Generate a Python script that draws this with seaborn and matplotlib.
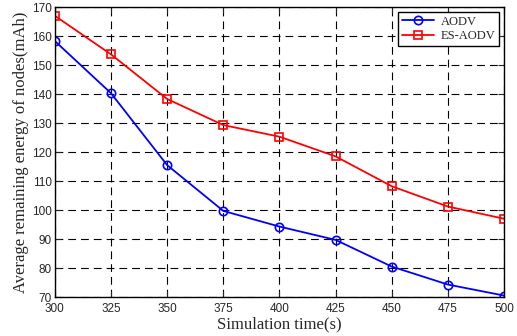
import numpy as np
import pandas as pd
import seaborn as sns
import matplotlib
matplotlib.use("Agg")
import matplotlib.pyplot as plt

times = [300, 325, 350, 375, 400, 425, 450, 475, 500]
aodv = [158.3, 140.3, 115.5, 99.7, 94.3, 89.7, 80.5, 74.3, 70.5]
es_aodv = [167.0, 153.7, 138.3, 129.3, 125.3, 118.5, 108.2, 101.2, 97.0]

df = pd.DataFrame({
    "time": times * 2,
    "energy": aodv + es_aodv,
    "protocol": ["AODV"] * len(times) + ["ES-AODV"] * len(times),
})

sns.set_style("ticks")
plt.rcParams["font.family"] = ["Liberation Sans", "DejaVu Sans"]
plt.rcParams["xtick.direction"] = "in"
plt.rcParams["ytick.direction"] = "in"

fig = plt.figure(figsize=(5.17, 3.36), dpi=100)
ax = fig.add_axes([0.106, 0.116, 0.869, 0.863])

sns.lineplot(data=df, x="time", y="energy", hue="protocol", style="protocol",
             palette={"AODV": "#0000ff", "ES-AODV": "#ff0000"},
             markers={"AODV": "o", "ES-AODV": "s"}, dashes=False,
             markersize=6, markerfacecolor="none", markeredgewidth=1.2,
             linewidth=1.3, ax=ax)
for ln in ax.lines:
    ln.set_markeredgecolor(ln.get_color())
    ln.set_markerfacecolor("none")

ax.set_xlim(300, 500)
ax.set_ylim(70, 170)
ax.set_xticks(times)
ax.set_yticks(np.arange(70, 171, 10))
ax.tick_params(labelsize=8.5, length=4, top=True, right=True)
ax.tick_params(axis="x", pad=4)
ax.tick_params(axis="y", pad=2)
ax.grid(True, color="black", linestyle=(0, (7, 4.5)), linewidth=0.8)
for s in ax.spines.values():
    s.set_linewidth(1.0)
    s.set_color("black")

ax.set_xlabel("Simulation time(s)", family=["Liberation Serif"], fontsize=12, labelpad=1)
ax.set_ylabel("Average remaining energy of nodes(mAh)", family=["Liberation Serif"], fontsize=12, labelpad=2)

leg = ax.legend(loc="upper right", prop={"family": "Liberation Serif", "size": 9},
                fancybox=False, edgecolor="black", framealpha=1, handlelength=2.6,
                borderpad=0.3, labelspacing=0.2, borderaxespad=0.4, handletextpad=0.5)
leg.get_frame().set_linewidth(1.0)
for h in leg.get_lines():
    h.set_markerfacecolor("none")
    h.set_markeredgecolor(h.get_color())

fig.savefig("out.png", dpi=100)
